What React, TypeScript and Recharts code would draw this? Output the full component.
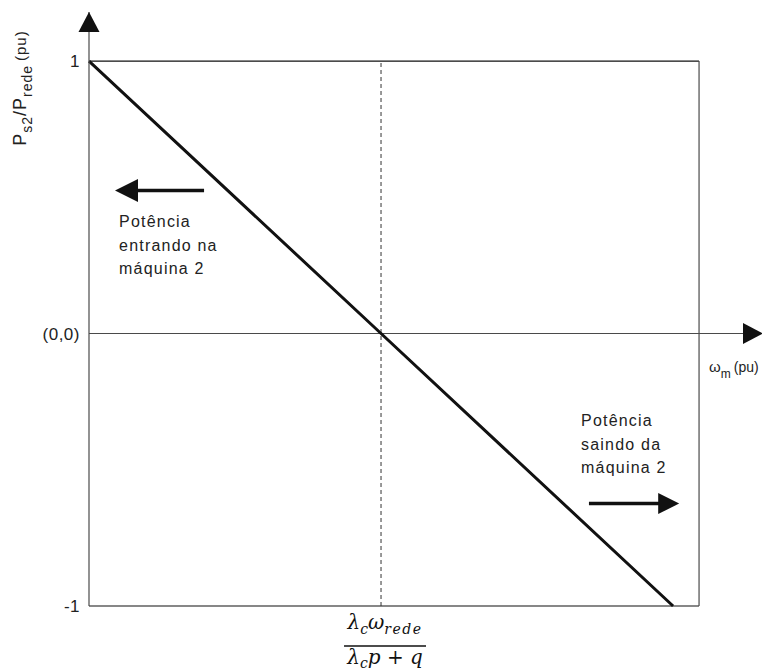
import React from 'react';
import { ComposedChart, Line, XAxis, YAxis, ReferenceLine, ReferenceDot } from 'recharts';

// Characteristic line P_s2/P_rede versus mechanical speed
const lineX = [0, 1, 2];
const lineY = [1, 0, -1];

const yTicks = [-1, 0, 1];
const yTickLabels: Record<string, string> = { '-1': '-1', '0': '(0,0)', '1': '1' };
const xTicks = [1];

const leftNote = ['Potência', 'entrando na', 'máquina 2'];
const rightNote = ['Potência', 'saindo da', 'máquina 2'];

// Axis extents (arrow tips) and the right edge of the framed region
const X_MAX = 2.308;
const Y_MAX = 1.18;
const BOX_RIGHT = 2.089;

// Annotation anchors in data units
const leftNotePos = { x: 0.103, y: 0.39 };
const rightNotePos = { x: 1.685, y: -0.341 };
const leftArrow = { tail: 0.394, tip: 0.089, y: 0.525 };
const rightArrow = { tail: 1.712, tip: 2.021, y: -0.624 };

const data = lineX.map((x, i) => ({ x, y: lineY[i] }));

const SANS = '"Liberation Sans", Arial, sans-serif';
const MATH = '"DejaVu Serif", "Liberation Serif", serif';
const AXIS = '#4a4a4a';
const INK = '#111';

const upArrow = (p: any) => (
  <polygon points={`${p.cx},${p.cy} ${p.cx - 10.5},${p.cy + 20} ${p.cx + 10.5},${p.cy + 20}`} fill={INK} />
);

const rightArrowHead = (p: any) => (
  <polygon points={`${p.cx},${p.cy} ${p.cx - 20},${p.cy - 10.5} ${p.cx - 20},${p.cy + 10.5}`} fill={INK} />
);

const leftHead = (p: any) => (
  <polygon points={`${p.cx},${p.cy} ${p.cx + 23},${p.cy - 11.5} ${p.cx + 23},${p.cy + 11.5}`} fill={INK} />
);

const rightHead = (p: any) => (
  <polygon points={`${p.cx},${p.cy} ${p.cx - 21},${p.cy - 10.5} ${p.cx - 21},${p.cy + 10.5}`} fill={INK} />
);

const note = (lines: string[]) => (p: any) => (
  <g>
    {lines.map((t, i) => (
      <text key={i} x={p.cx} y={p.cy + i * 23.5} fontFamily={SANS} fontSize={16} letterSpacing={1.2} fill="#222">
        {t}
      </text>
    ))}
  </g>
);

const xTitle = (p: any) => (
  <text x={p.cx - 54} y={p.cy + 38} fontFamily={SANS} fill="#222">
    <tspan fontSize={15}>ω</tspan>
    <tspan fontSize={12} dy={6}>m</tspan>
    <tspan fontSize={14} dy={-6} dx={3}>(pu)</tspan>
  </text>
);

const yTitle = (p: any) => (
  <text
    transform={`translate(${p.cx - 63},${p.cy + 27}) rotate(-90)`}
    textAnchor="middle"
    fontFamily={SANS}
    fill="#222"
    letterSpacing={1}
  >
    <tspan fontSize={18}>P</tspan>
    <tspan fontSize={14} dy={6}>s2</tspan>
    <tspan fontSize={18} dy={-6}>/P</tspan>
    <tspan fontSize={14} dy={6}>rede</tspan>
    <tspan fontSize={15} dy={-6} dx={4}>(pu)</tspan>
  </text>
);

const YTick = (p: any) => (
  <text x={p.x} y={p.y} dy={6} textAnchor="end" fontFamily={SANS} fontSize={17} letterSpacing={0.5} fill="#222">
    {yTickLabels[String(p.payload.value)]}
  </text>
);

// Speed at which the power reverses: λc·ωrede / (λc·p + q)
const XTick = (p: any) => {
  const cx = p.x + 4;
  const top = p.y;
  return (
    <g fontFamily={MATH} fill={INK}>
      <text x={cx} y={top + 15} textAnchor="middle" fontStyle="italic">
        <tspan fontSize={20}>λ</tspan>
        <tspan fontSize={14} dy={5}>c</tspan>
        <tspan fontSize={20} dy={-5}>ω</tspan>
        <tspan fontSize={14} dy={5} letterSpacing={1.5}>rede</tspan>
      </text>
      <line x1={cx - 41} x2={cx + 41} y1={top + 32} y2={top + 32} stroke={INK} strokeWidth={1.3} />
      <text x={cx} y={top + 50} textAnchor="middle" fontStyle="italic">
        <tspan fontSize={20}>λ</tspan>
        <tspan fontSize={14} dy={4}>c</tspan>
        <tspan fontSize={20} dy={-4}>p</tspan>
        <tspan fontSize={20} fontStyle="normal"> + </tspan>
        <tspan fontSize={20}>q</tspan>
      </text>
    </g>
  );
};

export default function App() {
  return (
    <ComposedChart
      width={762}
      height={662}
      data={data}
      margin={{ top: 4, right: 7, left: 0, bottom: 0 }}
    >
      <XAxis
        dataKey="x"
        type="number"
        domain={[0, X_MAX]}
        ticks={xTicks}
        axisLine={false}
        tickLine={false}
        height={64}
        tick={XTick}
        interval={0}
      />
      <YAxis
        type="number"
        domain={[-1, Y_MAX]}
        ticks={yTicks}
        width={81}
        axisLine={{ stroke: AXIS, strokeWidth: 1.2 }}
        tickLine={false}
        tickSize={0}
        tickMargin={9}
        tick={YTick}
        interval={0}
      />

      {/* frame */}
      <ReferenceLine segment={[{ x: 0, y: 1 }, { x: BOX_RIGHT, y: 1 }]} stroke={INK} strokeWidth={1.2} ifOverflow="visible" />
      <ReferenceLine segment={[{ x: 0, y: -1 }, { x: BOX_RIGHT, y: -1 }]} stroke={INK} strokeWidth={1.2} ifOverflow="visible" />
      <ReferenceLine segment={[{ x: BOX_RIGHT, y: -1 }, { x: BOX_RIGHT, y: 1 }]} stroke={AXIS} strokeWidth={1.2} ifOverflow="visible" />

      {/* speed axis */}
      <ReferenceLine segment={[{ x: 0, y: 0 }, { x: X_MAX - 0.03, y: 0 }]} stroke={AXIS} strokeWidth={1.2} ifOverflow="visible" />
      <ReferenceLine segment={[{ x: 1, y: -1 }, { x: 1, y: 1 }]} stroke="#333" strokeDasharray="4 3" ifOverflow="visible" />

      {/* annotation arrows */}
      <ReferenceLine segment={[{ x: leftArrow.tail, y: leftArrow.y }, { x: leftArrow.tip + 0.04, y: leftArrow.y }]} stroke={INK} strokeWidth={3.5} ifOverflow="visible" />
      <ReferenceLine segment={[{ x: rightArrow.tail, y: rightArrow.y }, { x: rightArrow.tip - 0.036, y: rightArrow.y }]} stroke={INK} strokeWidth={3.5} ifOverflow="visible" />

      <Line
        dataKey="y"
        type="linear"
        stroke={INK}
        strokeWidth={3}
        dot={false}
        activeDot={false}
        isAnimationActive={false}
      />

      <ReferenceDot x={0} y={Y_MAX} r={0} shape={upArrow} ifOverflow="visible" />
      <ReferenceDot x={X_MAX} y={0} r={0} shape={rightArrowHead} ifOverflow="visible" />
      <ReferenceDot x={X_MAX} y={0} r={0} shape={xTitle} ifOverflow="visible" />
      <ReferenceDot x={0} y={1} r={0} shape={yTitle} ifOverflow="visible" />
      <ReferenceDot x={leftArrow.tip} y={leftArrow.y} r={0} shape={leftHead} ifOverflow="visible" />
      <ReferenceDot x={rightArrow.tip} y={rightArrow.y} r={0} shape={rightHead} ifOverflow="visible" />
      <ReferenceDot x={leftNotePos.x} y={leftNotePos.y} r={0} shape={note(leftNote)} ifOverflow="visible" />
      <ReferenceDot x={rightNotePos.x} y={rightNotePos.y} r={0} shape={note(rightNote)} ifOverflow="visible" />
    </ComposedChart>
  );
}
